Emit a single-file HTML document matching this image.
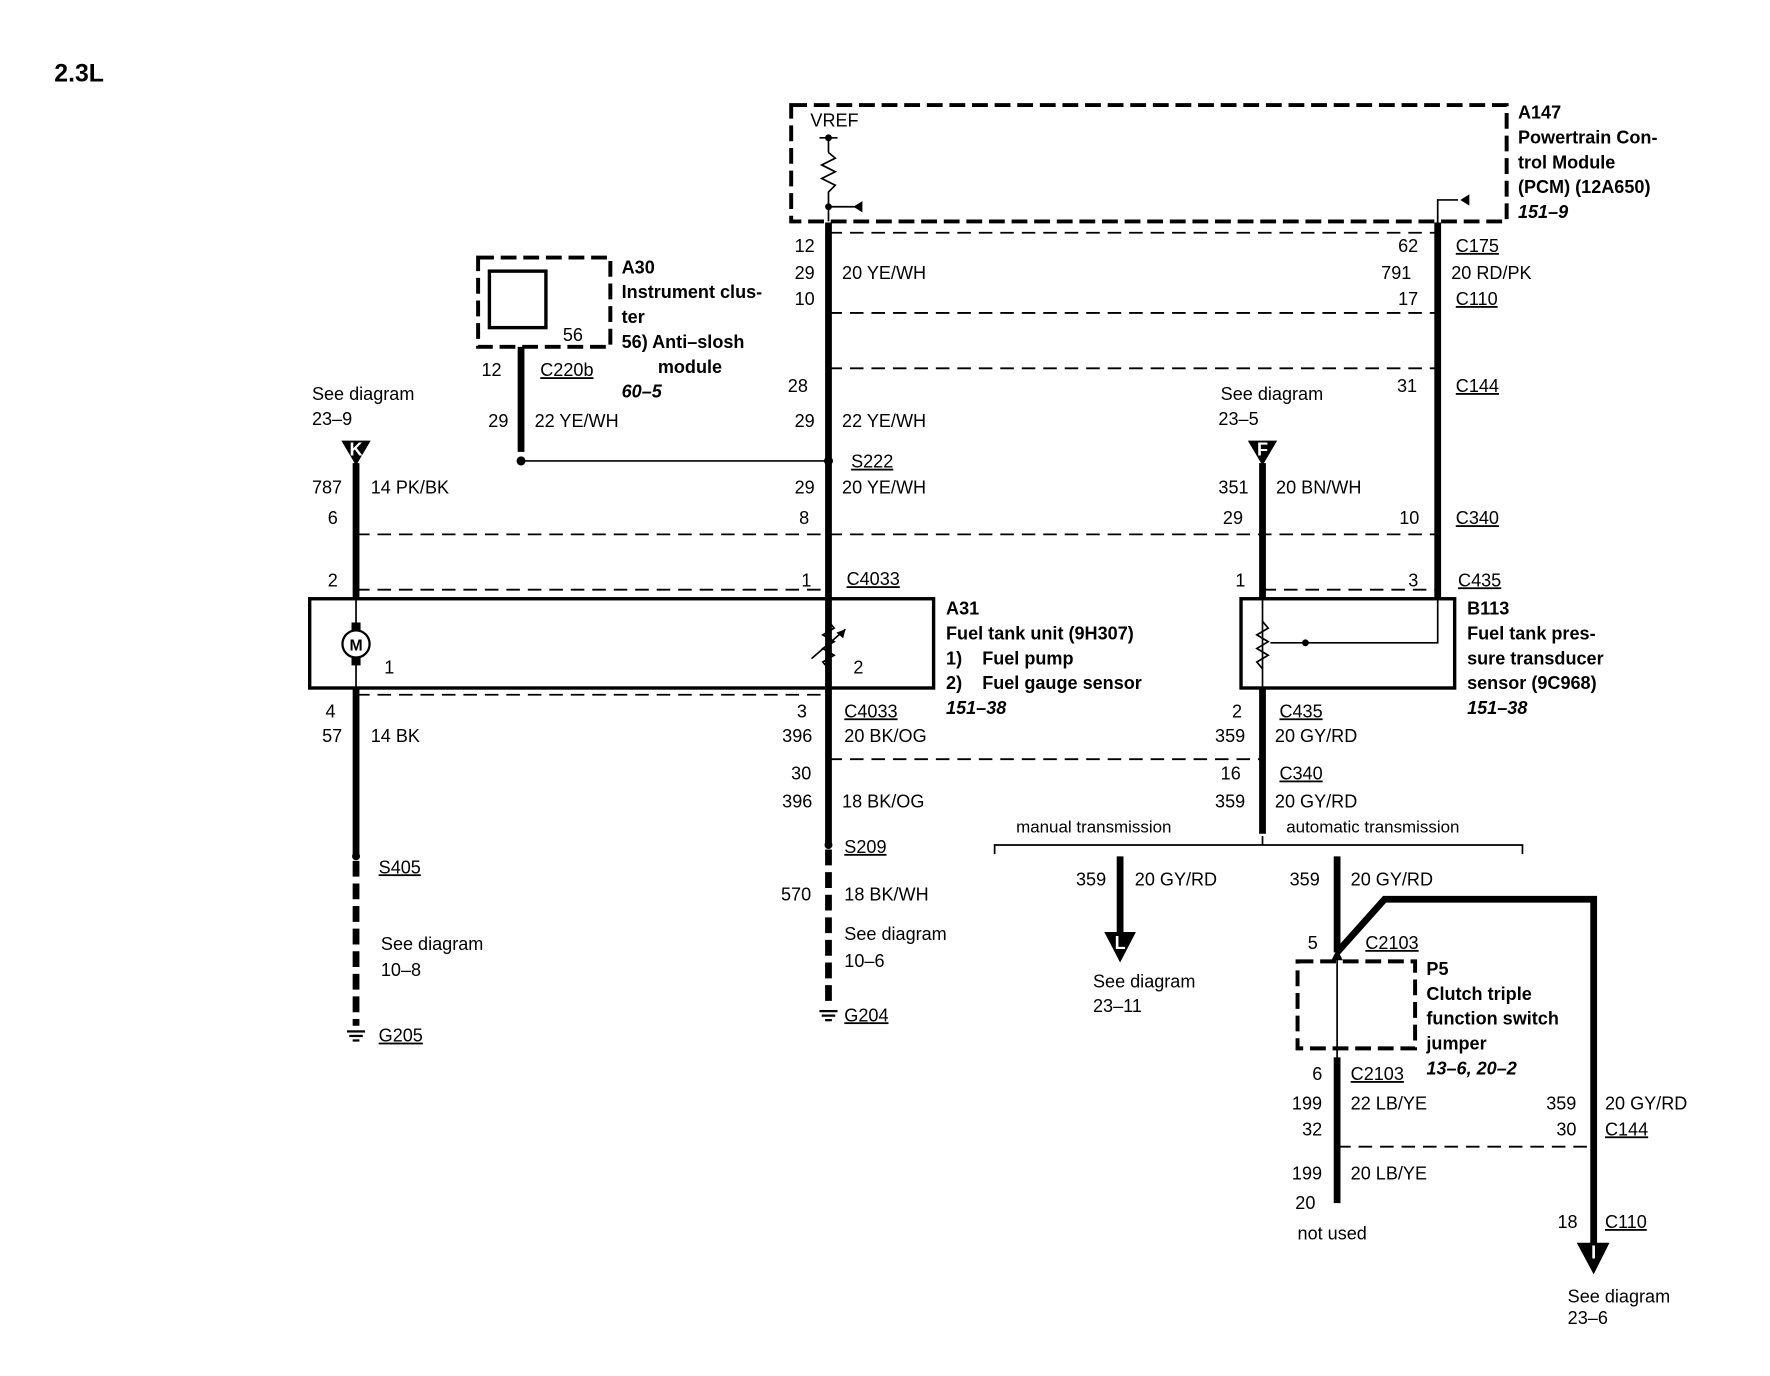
<!DOCTYPE html>
<html><head><meta charset="utf-8"><style>
html,body{margin:0;padding:0;background:#fff;}
svg{display:block;}
text{font-family:"Liberation Sans",Arial,sans-serif;font-size:16px;fill:#000;}
.b{font-weight:bold;}
.bi{font-weight:bold;font-style:italic;}
.u{text-decoration:underline;}
</style></head><body>
<svg width="1770" height="1376" viewBox="0 0 1566 1218" preserveAspectRatio="none" xmlns="http://www.w3.org/2000/svg">
<rect width="1566" height="1218" fill="#fff"/>
<text x="48" y="72" class="b" style="font-size:22px">2.3L</text>

<g fill="none" stroke="#000">
<!-- PCM box -->
<rect x="700" y="93" width="633" height="103" stroke-width="3.5" stroke-dasharray="14,6"/>
<!-- A30 box -->
<rect x="423" y="228" width="117" height="79" stroke-width="3.5" stroke-dasharray="14,6"/>
<rect x="433" y="240" width="50" height="50" stroke-width="3"/>
<!-- P5 box -->
<rect x="1148" y="851" width="104" height="77" stroke-width="3.5" stroke-dasharray="14,6"/>
<!-- A31 box -->
<rect x="274" y="530" width="552" height="79" stroke-width="3"/>
<!-- B113 box -->
<rect x="1098" y="530" width="189" height="79" stroke-width="3"/>

<!-- connector dashed lines -->
<g stroke-width="1.6" stroke-dasharray="12,7">
<line x1="733" y1="206" x2="1272" y2="206"/>
<line x1="733" y1="277" x2="1272" y2="277"/>
<line x1="733" y1="326" x2="1272" y2="326"/>
<line x1="315" y1="473" x2="1272" y2="473"/>
<line x1="315" y1="522" x2="733" y2="522"/>
<line x1="1117" y1="522" x2="1272" y2="522"/>
<line x1="315" y1="615" x2="733" y2="615"/>
<line x1="733" y1="672" x2="1117" y2="672"/>
<line x1="1183" y1="1015" x2="1408" y2="1015"/>
</g>

<!-- thin internals -->
<g stroke-width="1.5">
<line x1="725" y1="122" x2="741" y2="122"/>
<line x1="733" y1="122" x2="733" y2="135"/>
<polyline points="733,135 739,140 727,146 739,152 727,158 739,164 733,170 733,196"/>
<line x1="733" y1="183" x2="756" y2="183"/>
<polyline points="1272,200 1272,177 1290,177"/>
<line x1="315" y1="530" x2="315" y2="609"/>
<line x1="733" y1="530" x2="733" y2="609"/>
<line x1="461" y1="408" x2="733" y2="408"/>
<line x1="1117" y1="530" x2="1117" y2="609"/>
<polyline points="1272,530 1272,569 1155,569"/>
<line x1="1183" y1="843" x2="1183" y2="936"/>
<polyline points="880,756 880,748 1347,748 1347,756"/>
<line x1="1117" y1="740" x2="1117" y2="748"/>
</g>
<!-- var resistor -->
<polyline stroke-width="1.5" points="733,550 738,556 728,562 738,568 728,574 738,580 728,586 733,592"/>
<line x1="718" y1="583" x2="748" y2="557" stroke-width="1.5"/>
<polyline stroke-width="1.5" points="1117,550 1122,556 1112,562 1122,568 1112,574 1122,580 1112,586 1117,592"/>
<line x1="1155" y1="569" x2="1124" y2="569" stroke-width="1.5"/>

<!-- thick wires -->
<g stroke-width="6">
<line x1="733" y1="197" x2="733" y2="748"/>
<line x1="1272" y1="197" x2="1272" y2="530"/>
<line x1="461" y1="307" x2="461" y2="400"/>
<line x1="315" y1="410" x2="315" y2="530"/>
<line x1="315" y1="609" x2="315" y2="758"/>
<line x1="1117" y1="410" x2="1117" y2="530"/>
<line x1="1117" y1="609" x2="1117" y2="738"/>
<line x1="991" y1="758" x2="991" y2="830"/>
<line x1="1183" y1="758" x2="1183" y2="843"/>
<line x1="1183" y1="936" x2="1183" y2="1065"/>
<polyline points="1183,843 1225,796 1410,796 1410,1105" stroke-linejoin="miter"/>
</g>
<g stroke-width="6" stroke-dasharray="14,6">
<line x1="315" y1="762" x2="315" y2="908"/>
<line x1="733" y1="752" x2="733" y2="892"/>
</g>
<circle cx="315" cy="570" r="12" fill="#fff" stroke-width="2"/>
</g>

<g fill="#000">
<circle cx="733" cy="122" r="3"/><circle cx="733" cy="183" r="3"/>
<polygon points="755,183 763,178 763,188"/>
<polygon points="1292,177 1300,172 1300,182"/>
<circle cx="461" cy="408" r="4"/><circle cx="733" cy="408" r="4"/>
<circle cx="315" cy="758" r="3.5"/><circle cx="733" cy="748" r="3.5"/>
<circle cx="1155" cy="569" r="3"/>
<polygon points="748,557 740,560 746,565"/>
<rect x="311" y="551" width="8" height="7"/><rect x="311" y="582" width="8" height="7"/>
<polygon points="302,390 328,390 315,412"/>
<polygon points="1104,390 1130,390 1117,412"/>
<polygon points="977,825 1005,825 991,852"/>
<polygon points="1395,1100 1424,1100 1410,1128"/>
<polygon points="1178,850 1188,850 1183,840"/>
<!-- grounds -->
<rect x="307" y="912" width="16" height="2"/><rect x="309" y="916" width="12" height="2"/><rect x="312" y="920" width="6" height="2"/>
<rect x="725" y="894" width="16" height="2"/><rect x="727" y="898" width="12" height="2"/><rect x="730" y="902" width="6" height="2"/>
</g>
<text x="315" y="576" class="b" text-anchor="middle" style="font-size:14px">M</text>
<g style="font-size:11px;fill:#fff" class="b" text-anchor="middle">
<text x="315" y="403" style="fill:#fff">K</text><text x="1117" y="403" style="fill:#fff">F</text>
<text x="991" y="840" style="fill:#fff">L</text><text x="1410" y="1114" style="fill:#fff">I</text>
</g>

<!-- PCM text -->
<text x="717" y="112">VREF</text>
<text x="1343" y="105" class="b">A147</text>
<text x="1343" y="127" class="b">Powertrain Con-</text>
<text x="1343" y="149" class="b">trol Module</text>
<text x="1343" y="171" class="b">(PCM) (12A650)</text>
<text x="1343" y="193" class="bi">151–9</text>

<text x="703" y="223">12</text><text x="703" y="247">29</text><text x="703" y="270">10</text>
<text x="745" y="247">20 YE/WH</text>
<text x="1237" y="223">62</text><text x="1222" y="247">791</text><text x="1237" y="270">17</text>
<text x="1288" y="223" class="u">C175</text><text x="1284" y="247">20 RD/PK</text><text x="1288" y="270" class="u">C110</text>
<text x="697" y="347">28</text><text x="1236" y="347">31</text><text x="1288" y="347" class="u">C144</text>
<text x="703" y="378">29</text><text x="745" y="378">22 YE/WH</text>
<text x="753" y="414" class="u">S222</text>
<text x="703" y="437">29</text><text x="745" y="437">20 YE/WH</text><text x="707" y="464">8</text>

<text x="550" y="242" class="b">A30</text>
<text x="550" y="264" class="b">Instrument clus-</text>
<text x="550" y="286" class="b">ter</text>
<text x="550" y="308" class="b">56)  Anti–slosh</text>
<text x="582" y="330" class="b">module</text>
<text x="550" y="352" class="bi">60–5</text>
<text x="498" y="302">56</text>
<text x="426" y="333">12</text><text x="478" y="333" class="u">C220b</text>
<text x="432" y="378">29</text><text x="473" y="378">22 YE/WH</text>

<text x="276" y="354">See diagram</text><text x="276" y="376">23–9</text>
<text x="276" y="437">787</text><text x="328" y="437">14 PK/BK</text><text x="290" y="464">6</text>
<text x="1080" y="354">See diagram</text><text x="1078" y="376">23–5</text>
<text x="1078" y="437">351</text><text x="1129" y="437">20 BN/WH</text>
<text x="1082" y="464">29</text><text x="1238" y="464">10</text><text x="1288" y="464" class="u">C340</text>

<text x="290" y="519">2</text><text x="709" y="519">1</text><text x="749" y="518" class="u">C4033</text>
<text x="1093" y="519">1</text><text x="1246" y="519">3</text><text x="1290" y="519" class="u">C435</text>
<text x="340" y="596">1</text><text x="755" y="596">2</text>

<text x="837" y="544" class="b">A31</text>
<text x="837" y="566" class="b">Fuel tank unit (9H307)</text>
<text x="837" y="588" class="b">1)</text><text x="869" y="588" class="b">Fuel pump</text>
<text x="837" y="610" class="b">2)</text><text x="869" y="610" class="b">Fuel gauge sensor</text>
<text x="837" y="632" class="bi">151–38</text>
<text x="1298" y="544" class="b">B113</text>
<text x="1298" y="566" class="b">Fuel tank pres-</text>
<text x="1298" y="588" class="b">sure transducer</text>
<text x="1298" y="610" class="b">sensor (9C968)</text>
<text x="1298" y="632" class="bi">151–38</text>

<text x="288" y="635">4</text><text x="285" y="657">57</text><text x="328" y="657">14 BK</text>
<text x="705" y="635">3</text><text x="747" y="635" class="u">C4033</text>
<text x="692" y="657">396</text><text x="747" y="657">20 BK/OG</text>
<text x="1090" y="635">2</text><text x="1132" y="635" class="u">C435</text>
<text x="1075" y="657">359</text><text x="1128" y="657">20 GY/RD</text>
<text x="700" y="690">30</text><text x="692" y="715">396</text><text x="745" y="715">18 BK/OG</text>
<text x="1080" y="690">16</text><text x="1132" y="690" class="u">C340</text>
<text x="1075" y="715">359</text><text x="1128" y="715">20 GY/RD</text>
<text x="899" y="737" style="font-size:15px">manual transmission</text>
<text x="1138" y="737" style="font-size:15px">automatic transmission</text>

<text x="747" y="755" class="u">S209</text>
<text x="691" y="797">570</text><text x="747" y="797">18 BK/WH</text>
<text x="747" y="832">See diagram</text><text x="747" y="856">10–6</text>
<text x="747" y="904" class="u">G204</text>
<text x="335" y="773" class="u">S405</text>
<text x="337" y="841">See diagram</text><text x="337" y="864">10–8</text>
<text x="335" y="922" class="u">G205</text>

<text x="952" y="784">359</text><text x="1004" y="784">20 GY/RD</text>
<text x="1141" y="784">359</text><text x="1195" y="784">20 GY/RD</text>
<text x="967" y="874">See diagram</text><text x="967" y="896">23–11</text>
<text x="1157" y="840">5</text><text x="1208" y="840" class="u">C2103</text>
<text x="1262" y="863" class="b">P5</text>
<text x="1262" y="885" class="b">Clutch triple</text>
<text x="1262" y="907" class="b">function switch</text>
<text x="1262" y="929" class="b">jumper</text>
<text x="1262" y="951" class="bi">13–6, 20–2</text>
<text x="1161" y="956">6</text><text x="1195" y="956" class="u">C2103</text>
<text x="1143" y="982">199</text><text x="1195" y="982">22 LB/YE</text><text x="1152" y="1005">32</text>
<text x="1368" y="982">359</text><text x="1420" y="982">20 GY/RD</text>
<text x="1377" y="1005">30</text><text x="1420" y="1005" class="u">C144</text>
<text x="1143" y="1044">199</text><text x="1195" y="1044">20 LB/YE</text><text x="1146" y="1070">20</text>
<text x="1148" y="1097">not used</text>
<text x="1378" y="1087">18</text><text x="1420" y="1087" class="u">C110</text>
<text x="1387" y="1153">See diagram</text><text x="1387" y="1172">23–6</text>
</svg>
</body></html>
